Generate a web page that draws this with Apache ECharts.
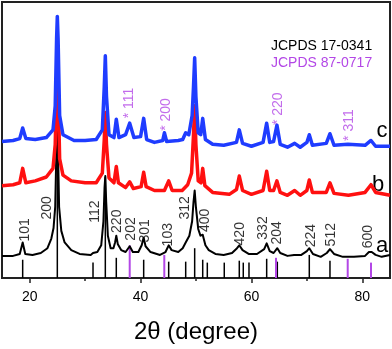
<!DOCTYPE html>
<html>
<head>
<meta charset="utf-8">
<script src="https://cdn.jsdelivr.net/npm/echarts@6/dist/echarts.min.js"></script>
<style>
html, body { margin: 0; padding: 0; background: #fff; }
#chart { width: 392px; height: 349px; }
</style>
</head>
<body>
<div id="chart"></div>
<script>
// XRD patterns: [2theta, intensity (a.u.)]
const curveA = [
    [15, 23], [17, 23], [18.2, 25], [18.73, 37], [19.2, 25], [20.5, 24], [22, 26], [23.2, 31],
    [23.9, 41], [24.3, 52], [24.6, 74], [24.8, 129], [24.98, 179], [25.12, 129], [25.3, 74],
    [25.7, 49], [26.3, 37], [27.5, 29], [29, 25], [31, 24], [31.42, 26], [32.2, 27], [32.9, 34],
    [33.3, 59], [33.5, 94], [33.64, 106], [33.8, 79], [34.1, 44], [34.6, 31], [35.1, 31],
    [35.4, 37], [35.62, 44], [35.9, 35], [36.5, 29], [37.3, 27], [38.04, 33], [38.6, 27],
    [39.6, 27], [40.2, 34], [40.56, 42], [40.9, 33], [41.8, 27], [43.5, 24], [44.5, 27],
    [45.07, 34], [45.6, 29], [46.8, 27], [47.6, 31], [48.14, 37], [48.8, 44], [49.3, 59],
    [49.55, 79], [49.76, 91], [49.98, 74], [50.4, 51], [50.8, 44], [51.21, 45], [51.7, 34],
    [52.3, 29], [53.5, 25], [55, 24], [56.5, 26], [57.4, 31], [57.81, 34], [58.4, 29],
    [59.5, 25], [61, 25], [62.3, 30], [62.75, 36], [63.3, 28], [64, 26], [64.67, 31],
    [65.2, 26], [66.5, 23], [67.7, 24], [69, 24], [70, 28], [70.44, 31], [71.1, 25],
    [72.5, 22], [73.6, 26], [74.17, 30], [74.9, 25], [76.5, 22], [78.5, 22], [80.5, 23],
    [81.2, 27], [81.7, 27], [82.4, 24], [83.5, 22], [85, 24]
];
const curveB = [
    [15, 96], [17, 97], [18.2, 99], [18.73, 114], [19.3, 99], [21, 101], [23, 105], [24.2, 114],
    [24.6, 139], [24.85, 199], [24.98, 227], [25.12, 199], [25.4, 124], [26, 107], [27.5, 101],
    [30, 99], [32, 99], [33.1, 109], [33.45, 144], [33.64, 172], [33.85, 139], [34.3, 104],
    [35.2, 99], [35.62, 116], [36, 99], [37.3, 94], [38.04, 100], [38.7, 93], [40.1, 95],
    [40.56, 110], [41, 95], [42.5, 91], [44.3, 91], [45.07, 101], [45.7, 91], [47.5, 91],
    [48.5, 97], [49.2, 109], [49.55, 149], [49.76, 179], [49.98, 139], [50.4, 101], [50.9, 99],
    [51.21, 114], [51.6, 96], [53, 89], [56, 87], [57.3, 92], [57.81, 106], [58.4, 91],
    [60, 87], [62.1, 91], [62.75, 111], [63.3, 91], [64, 91], [64.6, 101], [65.2, 89],
    [66.5, 86], [67.8, 91], [68.8, 86], [70, 91], [70.44, 102], [71, 89], [73.5, 89],
    [74.17, 99], [74.9, 88], [77.5, 86], [80.5, 89], [81.57, 97], [82.4, 89], [85, 86]
];
const curveC = [
    [15, 142], [17, 143], [18.2, 145], [18.73, 156], [19.3, 145], [21, 144], [23, 146],
    [24.2, 154], [24.6, 179], [24.85, 249], [24.98, 272], [25.12, 249], [25.4, 169], [26, 149],
    [28, 143], [30, 143], [32, 144], [33.1, 154], [33.45, 199], [33.64, 231], [33.85, 189],
    [34.3, 149], [35.2, 146], [35.62, 165], [36.1, 146], [37.3, 149], [38.04, 161], [38.8, 146],
    [40, 147], [40.56, 166], [41.1, 144], [42.5, 141], [44, 143], [44.3, 151], [44.7, 142],
    [46.8, 143], [47.6, 144], [48.14, 151], [48.7, 149], [49.3, 169], [49.55, 199],
    [49.76, 229], [49.98, 189], [50.4, 151], [50.85, 149], [51.21, 166], [51.7, 144], [53, 139],
    [55, 138], [57.3, 141], [57.81, 154], [58.4, 140], [60, 137], [62.1, 141], [62.75, 161],
    [63.3, 141], [64, 142], [64.6, 159], [65.2, 139], [66.5, 136], [67.8, 140], [68.8, 136],
    [70, 141], [70.44, 149], [71, 138], [73.5, 140], [74.17, 150], [74.9, 138], [77.4, 139],
    [80.5, 138], [81.57, 143], [82.4, 137], [85, 137]
];

// reference patterns (stick lines)
const jcpds170341Pos = [18.73, 24.98, 31.42, 33.64, 35.62, 40.56, 45.07, 48.14, 49.76, 51.21,
    52.04, 55.1, 57.81, 58.53, 59.56, 62.75, 64.67, 70.44, 74.17];
const jcpds170341Int = [19, 160, 16, 105, 21, 19, 17, 17, 31, 19, 16, 16, 18, 16, 16, 20, 17, 24, 18];
const jcpds870717Pos = [38.04, 44.28, 64.43, 77.37, 81.57];
const jcpds870717Int = [34, 24, 21, 20, 16];

// peak indices
const hklNames = ['101', '200', '112', '220', '202', '301', '103', '312', '400', '420', '332',
    '204', '224', '512', '600'];
const hklAt = [[19.15, 50], [23.12, 73], [31.78, 69], [35.75, 59], [38.27, 51], [40.8, 49],
    [44.95, 45], [48.0, 73], [51.62, 60], [57.94, 46], [62.09, 52], [64.61, 47], [70.75, 44],
    [74.35, 45], [81.03, 43]];
const agNames = ['* 111', '* 200', '* 220', '* 311'];
const agAt = [[37.91, 182], [44.59, 170], [64.85, 176], [77.6, 159]];

const xTicks = [20, 40, 60, 80];
const xMinorTicks = [30, 50, 70];

const purple = '#b347e6';
const font = 'Liberation Sans, Arial, sans-serif';

function sticks(pos, ints, color, w) {
    return {
        type: 'custom',
        silent: true,
        z: 1,
        data: pos.map((x, i) => [x, ints[i]]),
        renderItem: function (params, api) {
            const a = api.coord([api.value(0), 0]);
            const b = api.coord([api.value(0), api.value(1)]);
            return {
                type: 'line',
                shape: { x1: a[0], y1: a[1], x2: b[0], y2: b[1] },
                style: { stroke: color, lineWidth: w }
            };
        }
    };
}

function labels(names, at, color) {
    return {
        type: 'scatter',
        silent: true,
        z: 20,
        symbolSize: 0,
        labelLayout: { hideOverlap: false },
        data: at.map((p, i) => [p[0], p[1], names[i]]),
        label: {
            show: true,
            position: 'inside',
            rotate: 90,
            formatter: p => p.data[2],
            color: color,
            fontSize: 14,
            fontFamily: font
        }
    };
}

function pattern(data, color, w, z) {
    return {
        type: 'line',
        data: data,
        symbol: 'none',
        silent: true,
        z: z,
        lineStyle: { color: color, width: w, join: 'round' }
    };
}

var myChart = echarts.init(document.getElementById('chart'));
var option = {
    animation: false,
    grid: {
        left: 2, right: 2, top: 2, bottom: 60,
        show: true,
        borderColor: '#222',
        borderWidth: 2
    },
    xAxis: [{
        type: 'value',
        min: 15,
        max: 85,
        name: '2θ (degree)',
        nameLocation: 'middle',
        nameGap: 42,
        nameTextStyle: { fontSize: 24, color: '#000', fontFamily: font },
        axisLine: { show: false },
        splitLine: { show: false },
        axisTick: { show: true, inside: false, length: 5, customValues: xTicks,
            lineStyle: { color: '#222', width: 1.5 } },
        axisLabel: { customValues: xTicks, margin: 12, fontSize: 14, color: '#000', fontFamily: font }
    }, {
        type: 'value',
        min: 15,
        max: 85,
        position: 'bottom',
        axisLine: { show: false },
        splitLine: { show: false },
        axisTick: { show: true, inside: false, length: 3, customValues: xMinorTicks,
            lineStyle: { color: '#222', width: 1.5 } },
        axisLabel: { show: false }
    }],
    yAxis: {
        type: 'value',
        min: 0,
        max: 287,
        show: false
    },
    series: [
        sticks(jcpds170341Pos, jcpds170341Int, '#000', 1.5),
        sticks(jcpds870717Pos, jcpds870717Int, purple, 2),
        pattern(curveA, '#000', 2, 2),
        pattern(curveB, '#ff1010', 3.5, 3),
        pattern(curveC, '#1f3cff', 3.5, 4),
        labels(hklNames, hklAt, '#000'),
        labels(agNames, agAt, purple)
    ],
    graphic: [
        { type: 'text', left: 271, top: 39, style: { text: 'JCPDS 17-0341', fill: '#000', font: '14px ' + font } },
        { type: 'text', left: 271, top: 56, style: { text: 'JCPDS 87-0717', fill: purple, font: '14px ' + font } },
        { type: 'text', x: 382, y: 131, style: { text: 'c', fill: '#000', font: '22px ' + font, textAlign: 'center', textVerticalAlign: 'middle' } },
        { type: 'text', x: 378, y: 185, style: { text: 'b', fill: '#000', font: '22px ' + font, textAlign: 'center', textVerticalAlign: 'middle' } },
        { type: 'text', x: 382, y: 246, style: { text: 'a', fill: '#000', font: '22px ' + font, textAlign: 'center', textVerticalAlign: 'middle' } }
    ]
};
myChart.setOption(option);
</script>
</body>
</html>
